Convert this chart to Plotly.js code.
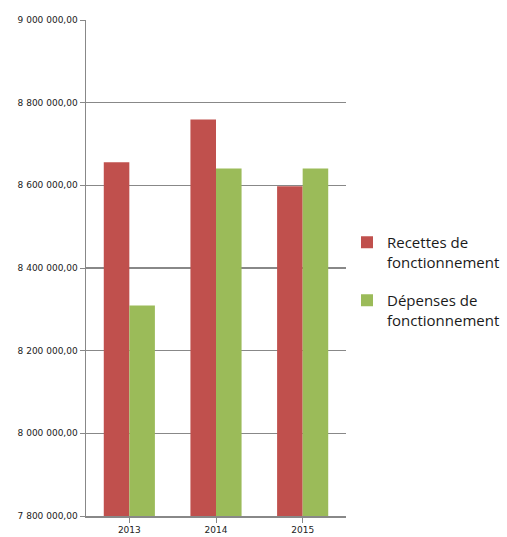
<!DOCTYPE html>
<html>
<head>
<meta charset="utf-8">
<script src="https://cdn.plot.ly/plotly-3.0.1.min.js"></script>
<style>html,body{margin:0;padding:0;background:#fff;}#chart{width:507px;height:537px;}</style>
</head>
<body>
<div id="chart"></div>
<script>
const years = ["2013", "2014", "2015"];
const recettes = [8656000, 8759000, 8598000];
const depenses = [8309000, 8641000, 8641000];
const seriesNames = ["Recettes de<br>fonctionnement", "Dépenses de<br>fonctionnement"];
const tickValues = [7800000, 8000000, 8200000, 8400000, 8600000, 8800000, 9000000];

const traces = [
  {type: "bar", x: years, y: recettes, name: seriesNames[0], legendgroup: "r", marker: {color: "#C0504D"}},
  {type: "bar", x: years, y: depenses, name: seriesNames[1], legendgroup: "d", marker: {color: "#9BBB59"}}
];

const layout = {
  width: 507, height: 537,
  margin: {l: 86, r: 161, t: 20, b: 21, pad: 0, autoexpand: false},
  paper_bgcolor: "#fff", plot_bgcolor: "#fff",
  separators: ", ",
  barmode: "group", bargap: 0.41, bargroupgap: 0,
  showlegend: true,
  legend: {xref: "container", yref: "container", x: 347 / 507, y: 1 - 226 / 537,
           xanchor: "left", yanchor: "top", valign: "top",
           traceorder: "grouped", tracegroupgap: 16,
           font: {family: "Open Sans", size: 15, color: "#1a1a1a"},
           itemwidth: 30},
  xaxis: {
    showline: true, linecolor: "#888", linewidth: 1.5,
    ticks: "outside", tickson: "boundaries", ticklen: 5, tickcolor: "#888",
    tickfont: {family: "DejaVu Sans", size: 9, color: "#222"},
    showgrid: false
  },
  yaxis: {
    range: [7800000, 9000000],
    tickvals: tickValues, tickformat: ",.2f",
    showline: true, linecolor: "#888", linewidth: 1.5,
    ticks: "outside", ticklen: 5, tickcolor: "#888",
    tickfont: {family: "DejaVu Sans", size: 9, color: "#222"},
    showgrid: true, gridcolor: "#888", gridwidth: 1.5,
    zeroline: false
  }
};

Plotly.newPlot("chart", traces, layout, {displayModeBar: false, staticPlot: true});
</script>
</body>
</html>
